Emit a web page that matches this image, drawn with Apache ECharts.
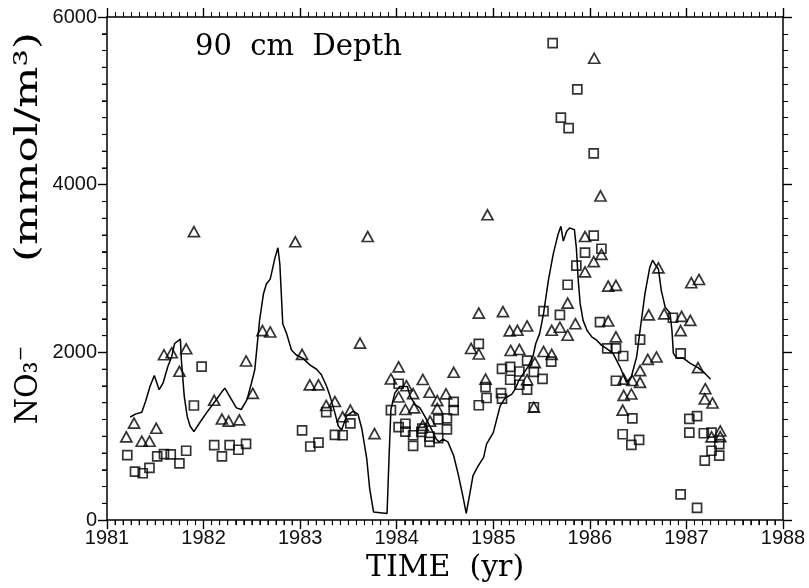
<!DOCTYPE html>
<html>
<head>
<meta charset="utf-8">
<script src="https://cdn.jsdelivr.net/npm/echarts@6/dist/echarts.min.js"></script>
<style>
html,body{margin:0;padding:0;background:#fff;}
#chart{width:809px;height:588px;}
</style>
</head>
<body>
<div id="chart"></div>
<script>
// Model curve (solid line)
var modelTime = [1981.24,1981.30,1981.36,1981.40,1981.445,1981.49,1981.54,1981.58,1981.63,1981.67,1981.70,1981.76,1981.77,1981.80,1981.83,1981.86,1981.90,1981.96,1982.03,1982.12,1982.18,1982.22,1982.27,1982.34,1982.39,1982.45,1982.50,1982.53,1982.58,1982.62,1982.65,1982.69,1982.74,1982.77,1982.79,1982.82,1982.86,1982.91,1982.96,1983.03,1983.10,1983.17,1983.22,1983.275,1983.31,1983.36,1983.395,1983.43,1983.48,1983.55,1983.60,1983.64,1983.69,1983.72,1983.76,1983.90,1983.92,1983.94,1983.98,1984.03,1984.11,1984.14,1984.19,1984.24,1984.29,1984.36,1984.41,1984.44,1984.48,1984.53,1984.59,1984.64,1984.69,1984.72,1984.76,1984.79,1984.845,1984.90,1984.93,1985.00,1985.07,1985.12,1985.19,1985.225,1985.26,1985.28,1985.36,1985.41,1985.44,1985.48,1985.52,1985.57,1985.62,1985.67,1985.70,1985.725,1985.76,1985.79,1985.84,1985.86,1985.88,1985.90,1985.93,1985.97,1986.02,1986.07,1986.12,1986.17,1986.24,1986.31,1986.38,1986.43,1986.485,1986.52,1986.57,1986.62,1986.65,1986.675,1986.71,1986.74,1986.78,1986.83,1986.85,1986.865,1986.90,1986.97,1987.04,1987.12,1987.19,1987.25];
var modelNO3 = [1230,1267,1287,1417,1594,1724,1555,1633,1831,1949,2106,2158,1913,1476,1240,1122,1055,1161,1279,1417,1515,1574,1476,1338,1319,1437,1653,1792,2382,2697,2815,2874,3130,3248,3051,2342,2224,2028,1969,1929,1851,1799,1733,1594,1476,1279,1122,1075,1240,1299,1260,1083,729,374,98,79,729,1319,1515,1594,1594,1476,1378,1338,1240,1083,965,933,965,933,768,531,256,79,334,531,650,748,906,1043,1358,1453,1500,1559,1653,1693,1831,1949,2106,2224,2460,2855,3169,3405,3504,3327,3445,3484,3464,3248,2855,2578,2382,2264,2185,2146,2087,2047,1988,1831,1642,1713,1949,2264,2697,3012,3100,3051,2992,2737,2539,2469,2264,1988,1929,1929,1870,1819,1752,1681];

// Observations: triangles
var triTime = [1981.20,1981.28,1981.36,1981.44,1981.51,1981.59,1981.67,1981.75,1981.82,1981.90,1982.11,1982.19,1982.26,1982.37,1982.44,1982.51,1982.61,1982.69,1982.95,1983.02,1983.10,1983.19,1983.27,1983.36,1983.44,1983.52,1983.62,1983.70,1983.77,1983.94,1984.02,1984.02,1984.10,1984.09,1984.17,1984.18,1984.27,1984.34,1984.345,1984.27,1984.42,1984.42,1984.51,1984.59,1984.77,1984.85,1984.85,1984.92,1984.94,1985.10,1985.17,1985.25,1985.18,1985.27,1985.35,1985.35,1985.43,1985.42,1985.52,1985.605,1985.605,1985.69,1985.77,1985.85,1985.77,1985.95,1986.04,1986.12,1985.95,1986.045,1986.11,1986.19,1986.27,1986.19,1986.27,1986.35,1986.43,1986.35,1986.44,1986.52,1986.34,1986.52,1986.61,1986.60,1986.69,1986.71,1986.77,1986.95,1987.04,1986.94,1987.05,1987.13,1987.12,1987.195,1987.19,1987.27,1987.26,1987.35,1987.35];
var triNO3 = [992,1157,941,941,1095,1972,1996,1775,2043,3441,1429,1205,1181,1196,1898,1512,2259,2244,3319,1976,1612,1612,1367,1414,1232,1311,2111,3382,1031,1683,1827,1468,1603,1319,1508,1338,1677,1524,1181,1130,1425,1331,1506,1763,2047,1981,2468,1681,3641,2486,2256,2264,2023,2035,2315,1674,1878,1346,2011,1976,2264,2300,2205,2342,2587,2961,3083,3169,3382,5508,3866,2791,2799,2374,2185,1488,1504,1681,1665,1642,1311,1783,2448,1917,1945,3008,2460,2429,2382,2259,2831,2870,1819,1567,1444,1397,992,1063,996];

// Observations: squares
var sqTime = [1981.21,1981.29,1981.37,1981.44,1981.52,1981.59,1981.66,1981.75,1981.82,1981.98,1981.90,1982.11,1982.19,1982.27,1982.36,1982.44,1983.02,1983.105,1983.19,1983.27,1983.36,1983.44,1983.52,1983.94,1984.02,1984.02,1984.09,1984.09,1984.17,1984.17,1984.265,1984.255,1984.34,1984.34,1984.43,1984.52,1984.52,1984.43,1984.59,1984.59,1984.85,1984.85,1984.92,1984.93,1985.09,1985.175,1985.175,1985.08,1985.09,1985.27,1985.42,1985.27,1985.35,1985.35,1985.51,1985.60,1985.42,1985.52,1985.69,1985.77,1985.86,1985.95,1986.04,1986.12,1985.615,1985.87,1985.70,1985.78,1986.04,1986.105,1986.18,1986.27,1986.345,1986.52,1986.27,1986.44,1986.34,1986.43,1986.51,1986.86,1986.94,1987.03,1987.11,1987.03,1987.18,1987.26,1987.34,1987.34,1987.26,1987.19,1986.94,1987.11];
var sqNO3 = [776,579,559,622,759,788,783,677,827,1831,1367,894,759,894,839,909,1071,878,925,1287,1016,1012,1154,1311,1626,1110,1149,1055,1012,886,1090,1051,996,933,1201,1213,1083,977,1409,1311,1370,2102,1586,1456,1804,1827,1674,1515,1449,1772,1768,1614,1555,1902,1685,1890,1346,2492,2448,2807,3035,3189,3393,3236,5689,5138,4799,4674,4374,2362,2047,2047,1957,2153,1662,1213,1024,898,957,2413,1988,1208,1240,1043,1036,1043,906,768,827,709,307,145];

// Axis ticks
var xTicks = [1981,1982,1983,1984,1985,1986,1987,1988];
var yTicks = [0,2000,4000,6000];
var monthsPerYear = 12;   // minor x ticks per year
var yMinorPerMajor = 10;  // minor y ticks per major interval

function pairs(a,b){var r=[];for(var i=0;i<a.length;i++)r.push([a[i],b[i]]);return r;}

var chart = echarts.init(document.getElementById('chart'), null, {renderer:'canvas'});
var sans = 'Liberation Sans';
var serif = 'DejaVu Serif';
var xMin = xTicks[0], xMax = xTicks[xTicks.length-1];
var yMin = yTicks[0], yMax = yTicks[yTicks.length-1];
var yStep = yTicks[1] - yTicks[0];

// minor tick positions (in data units) for the bottom and left edges
var xMinorPos = [], yMinorPos = [];
for (var i = 0; i < (xTicks.length - 1) * monthsPerYear; i++) {
  if (i % monthsPerYear) xMinorPos.push([xMin + i / monthsPerYear, yMin]);
}
for (var j = 0; j < (yTicks.length - 1) * yMinorPerMajor; j++) {
  if (j % yMinorPerMajor) yMinorPos.push([xMin, yMin + j * yStep / yMinorPerMajor]);
}

var lineOn = {show:true, onZero:false, lineStyle:{color:'#000', width:1.5}};
function ticks(){ return {show:true, length:9, lineStyle:{color:'#000', width:1.4}}; }
function minor(n){ return {show:true, splitNumber:n, length:5, lineStyle:{color:'#000', width:1}}; }

function xAxisDef(pos, labels){
  return {
    type:'value', min:xMin, max:xMax, interval:1, position:pos,
    axisLine: labels ? lineOn : {show:false, onZero:false},
    axisTick: labels ? {show:false} : ticks(),
    minorTick: labels ? {show:false} : minor(monthsPerYear),
    splitLine:{show:false},
    axisLabel:{show:labels, fontFamily:sans, fontSize:20, color:'#111', margin:8, formatter:function(v){return String(v);}}
  };
}
function yAxisDef(pos, labels){
  return {
    type:'value', min:yMin, max:yMax, interval:yStep, position:pos,
    axisLine: labels ? lineOn : {show:false, onZero:false},
    axisTick: labels ? {show:false} : ticks(),
    minorTick: labels ? {show:false} : minor(yMinorPerMajor),
    splitLine:{show:false},
    axisLabel:{show:labels, fontFamily:sans, fontSize:20, color:'#111', margin:10, formatter:function(v){return String(v);}}
  };
}

var xb = xAxisDef('bottom', true);
xb.name = 'TIME  (yr)'; xb.nameLocation = 'middle'; xb.nameGap = 27;
xb.nameTextStyle = {fontFamily:serif, fontSize:30, color:'#000'};
var xt = xAxisDef('top', false); xt.axisLine = lineOn;
var yl = yAxisDef('left', true);
var yr = yAxisDef('right', false); yr.axisLine = lineOn;

function tickRenderer(dx, dy){
  return function(params, api){
    var p = api.coord([api.value(0), api.value(1)]);
    return {type:'line', shape:{x1:p[0], y1:p[1], x2:p[0]+dx, y2:p[1]+dy},
            style:{stroke:'#000', lineWidth:1}};
  };
}

var option = {
  backgroundColor:'#fff',
  animation:false,
  grid:{left:107, right:26, top:17, bottom:63, containLabel:false},
  xAxis:[xb, xt, xAxisDef('bottom', false)],
  yAxis:[yl, yr, yAxisDef('left', false)],
  graphic:[
    {type:'text', left:195, top:33, style:{text:'90  cm  Depth', font:'29px "DejaVu Serif"', fill:'#000'}},
    {type:'text', x:29, y:147, rotation:Math.PI/2, scaleX:1.45, scaleY:1.05, style:{text:'(mmol/m³)', font:'30px "DejaVu Serif"', fill:'#000', align:'center', verticalAlign:'middle'}},
    {type:'text', x:29, y:385, rotation:Math.PI/2, scaleY:1.05, style:{text:'NO₃⁻', font:'30px "DejaVu Serif"', fill:'#000', align:'center', verticalAlign:'middle'}}
  ],
  series:[{
    type:'line', xAxisIndex:0, yAxisIndex:0, data:pairs(modelTime, modelNO3), showSymbol:false, symbol:'none',
    lineStyle:{color:'#000', width:1.5}, z:2
  },{
    type:'scatter', xAxisIndex:0, yAxisIndex:0, data:pairs(triTime, triNO3), symbol:'triangle', symbolSize:[11,10],
    itemStyle:{color:'transparent', borderColor:'#000', borderWidth:1.7}, z:3
  },{
    type:'scatter', xAxisIndex:0, yAxisIndex:0, data:pairs(sqTime, sqNO3), symbol:'rect', symbolSize:[9,9],
    itemStyle:{color:'transparent', borderColor:'#000', borderWidth:1.7}, z:3
  },{
    type:'custom', xAxisIndex:0, yAxisIndex:0, data:xMinorPos, clip:false, silent:true, z:4,
    renderItem:tickRenderer(0, 5)
  },{
    type:'custom', xAxisIndex:0, yAxisIndex:0, data:yMinorPos, clip:false, silent:true, z:4,
    renderItem:tickRenderer(-5, 0)
  }]
};
chart.setOption(option);
</script>
</body>
</html>
